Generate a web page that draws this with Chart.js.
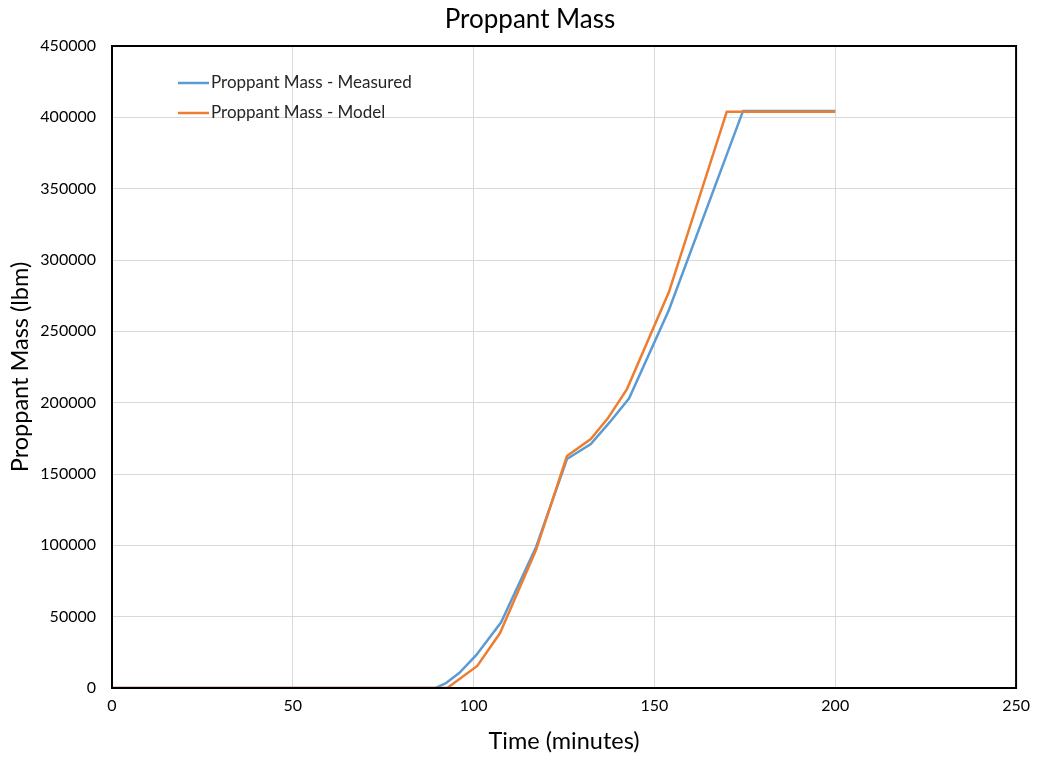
<!DOCTYPE html>
<html>
<head>
<meta charset="utf-8">
<script src="https://cdn.jsdelivr.net/npm/chart.js@4"></script>
<style>
  html, body { margin: 0; padding: 0; background: #fff; }
  #wrap { width: 1038px; height: 757px; }
</style>
</head>
<body>
<div id="wrap"><canvas id="massChart" width="1038" height="757"></canvas></div>
<script>
// values
const measuredTime = [0, 89.5, 92.4, 96, 100.7, 107.6, 117.3, 125.8, 132.4, 137.7, 143, 154, 174.5, 200];
const measuredMass = [0, 0, 3500, 10500, 23000, 46000, 99000, 160500, 171000, 186500, 203000, 265000, 404500, 404500];

const modelTime = [0, 92.7, 101, 107.3, 117.3, 125.8, 132.4, 137.1, 142.4, 154, 170, 200];
const modelMass = [0, 0, 15500, 38500, 97000, 162600, 174500, 189000, 209500, 277500, 404000, 404000];

const xTicks = [0, 50, 100, 150, 200, 250];
const yTicks = [0, 50000, 100000, 150000, 200000, 250000, 300000, 350000, 400000, 450000];

const chartTitle = 'Proppant Mass';

const FONT = 'Lato, "Open Sans", sans-serif';
const BLUE = '#5b9bd5';
const ORANGE = '#ed7d31';

const toPoints = (xs, ys) => xs.map((x, i) => ({ x: x, y: ys[i] }));

// black frame round the plot area
const framePlugin = {
    id: 'frame',
    afterDatasetsDraw(chart) {
        const { ctx, chartArea: a } = chart;
        ctx.save();
        ctx.strokeStyle = '#000';
        ctx.lineWidth = 2;
        ctx.strokeRect(a.left, a.top, a.right - a.left, a.bottom - a.top);
        ctx.restore();
    }
};

// title is placed a bit right of the canvas centre, like the original
const titlePlugin = {
    id: 'sheetTitle',
    afterDraw(chart) {
        const { ctx } = chart;
        ctx.save();
        ctx.font = '26px ' + FONT;
        ctx.fillStyle = '#000';
        ctx.textAlign = 'center';
        ctx.textBaseline = 'middle';
        ctx.fillText(chartTitle, 530, 20);
        ctx.restore();
    }
};

// legend drawn inside the plot, top-left
const innerLegend = {
    id: 'innerLegend',
    afterDraw(chart) {
        const { ctx } = chart;
        const items = chart.data.datasets.map(ds => ({ label: ds.label, color: ds.borderColor }));
        ctx.save();
        ctx.font = '17px ' + FONT;
        ctx.textBaseline = 'middle';
        items.forEach((it, i) => {
            const y = 83 + i * 30;
            ctx.strokeStyle = it.color;
            ctx.lineWidth = 2.5;
            ctx.beginPath();
            ctx.moveTo(178, y);
            ctx.lineTo(209, y);
            ctx.stroke();
            ctx.fillStyle = '#262626';
            ctx.fillText(it.label, 211, y);
        });
        ctx.restore();
    }
};

const ctx = document.getElementById('massChart').getContext('2d');
new Chart(ctx, {
    type: 'line',
    data: {
        datasets: [{
            label: 'Proppant Mass - Measured',
            data: toPoints(measuredTime, measuredMass),
            borderColor: BLUE,
            borderWidth: 2.5,
            pointRadius: 0,
            tension: 0,
            order: 1
        }, {
            label: 'Proppant Mass - Model',
            data: toPoints(modelTime, modelMass),
            borderColor: ORANGE,
            borderWidth: 2.5,
            pointRadius: 0,
            tension: 0,
            order: 0
        }]
    },
    options: {
        responsive: false,
        animation: false,
        layout: { padding: { left: 0, right: 20, top: 46, bottom: 0 } },
        plugins: {
            legend: { display: false },
            tooltip: { enabled: false },
            title: { display: false }
        },
        scales: {
            x: {
                type: 'linear',
                min: 0,
                max: 250,
                afterFit(s) { s.height = 69; },
                afterBuildTicks(s) { s.ticks = xTicks.map(v => ({ value: v })); },
                grid: { color: '#d9d9d9', drawTicks: false },
                border: { display: false },
                ticks: { color: '#000', padding: 8, font: { family: FONT, size: 16 }, maxRotation: 0 },
                title: {
                    display: true,
                    text: 'Time (minutes)',
                    color: '#000',
                    font: { family: FONT, size: 23.5, lineHeight: 1.2 },
                    padding: { top: 2, bottom: 1 }
                }
            },
            y: {
                min: 0,
                max: 450000,
                afterFit(s) { s.width = 112; },
                afterBuildTicks(s) { s.ticks = yTicks.map(v => ({ value: v })); },
                grid: { color: '#d9d9d9', drawTicks: false },
                border: { display: false },
                ticks: { color: '#000', padding: 16, font: { family: FONT, size: 16 }, callback: v => String(v) },
                title: {
                    display: true,
                    text: 'Proppant Mass (lbm)',
                    color: '#000',
                    font: { family: FONT, size: 23.5, lineHeight: 1.2 },
                    padding: { top: 6, bottom: 2 }
                }
            }
        }
    },
    plugins: [framePlugin, titlePlugin, innerLegend]
});
</script>
</body>
</html>
